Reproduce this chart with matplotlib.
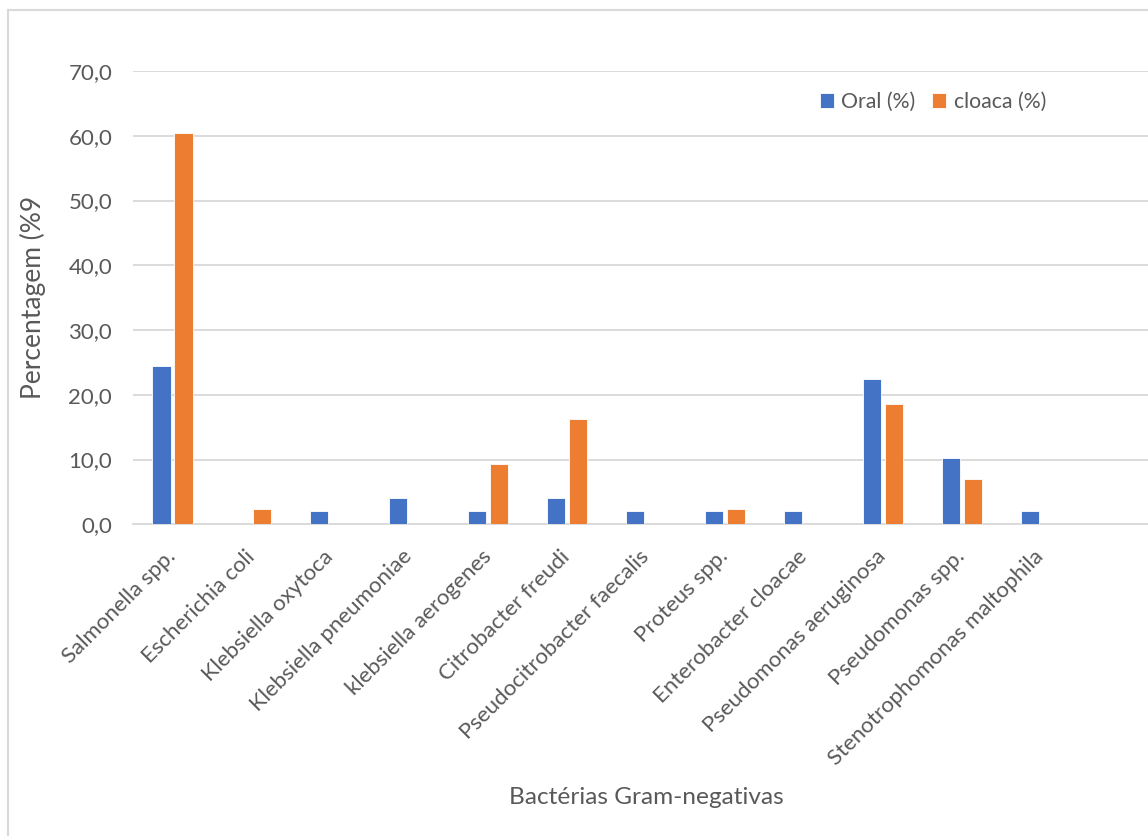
import matplotlib
matplotlib.use("Agg")
import matplotlib.pyplot as plt
import numpy as np
from matplotlib.lines import Line2D
from matplotlib.ticker import FuncFormatter

plt.rcParams['font.family'] = ['Lato', 'DejaVu Sans']

# data
bacteria = ["Salmonella spp.", "Escherichia coli", "Klebsiella oxytoca",
            "Klebsiella pneumoniae", "klebsiella aerogenes", "Citrobacter freudi",
            "Pseudocitrobacter faecalis", "Proteus spp.", "Enterobacter cloacae",
            "Pseudomonas aeruginosa", "Pseudomonas spp.", "Stenotrophomonas maltophila"]
oral = [24.5, 0.0, 2.0, 4.1, 2.0, 4.1, 2.0, 2.0, 2.0, 22.4, 10.2, 2.0]
cloaca = [60.5, 2.3, 0.0, 0.0, 9.3, 16.3, 0.0, 2.3, 0.0, 18.6, 7.0, 0.0]

blue = "#4472C4"
orange = "#ED7D31"
grey_txt = "#595959"
grid_col = "#D9D9D9"

W, H = 1148, 836
fig = plt.figure(figsize=(W / 100, H / 100), dpi=100)
# plot area runs a little past the right edge of the picture (one empty slot)
ax = fig.add_axes([133 / W, 1 - 524.3 / H, (1159 - 133) / W, (524.3 - 71) / H])

x = np.arange(len(bacteria))
bw = 0.23
off = 0.139
ax.bar(x - off, oral, bw, color=blue, edgecolor="white", linewidth=0.6, label="Oral (%)", zorder=3)
ax.bar(x + off, cloaca, bw, color=orange, edgecolor="white", linewidth=0.6, label="cloaca (%)", zorder=3)

ax.set_xlim(-0.5, 12.5)
ax.set_ylim(0, 70)
ax.set_yticks(np.arange(0, 71, 10))
ax.yaxis.set_major_formatter(FuncFormatter(lambda v, p: f"{v:.1f}".replace(".", ",")))
ax.grid(axis="y", color=grid_col, linewidth=1.3, zorder=0)
for s in ["top", "right", "left"]:
    ax.spines[s].set_visible(False)
ax.spines["bottom"].set_color(grid_col)
ax.spines["bottom"].set_linewidth(1.3)
ax.tick_params(axis="both", length=0, labelsize=16, labelcolor=grey_txt)
ax.tick_params(axis="y", pad=15)

ax.set_xticks(x)
ax.set_xticklabels(bacteria, rotation=45, ha="right", va="center", rotation_mode="anchor")
ax.tick_params(axis="x", pad=21)

ax.set_ylabel("Percentagem (%9", fontsize=19, color=grey_txt)
ax.yaxis.set_label_coords(-(133 - 46) / (1159 - 133), 0.5)
fig.text(646 / W, 1 - 798 / H, "Bactérias Gram-negativas", fontsize=17.6,
         color=grey_txt, ha="center", va="center")

ax.legend(loc="center", bbox_to_anchor=(933 / W, 1 - 102 / H), bbox_transform=fig.transFigure,
          ncol=2, frameon=False, fontsize=15.3, labelcolor=grey_txt,
          handlelength=0.65, handleheight=0.65, handletextpad=0.35, columnspacing=0.8)

# chart border (left and top edges visible)
fig.add_artist(Line2D([8 / W, 8 / W], [0, 1 - 10 / H], color=grid_col, linewidth=1.5))
fig.add_artist(Line2D([8 / W, 1], [1 - 10 / H, 1 - 10 / H], color=grid_col, linewidth=1.5))

fig.savefig("out.png", dpi=100)
